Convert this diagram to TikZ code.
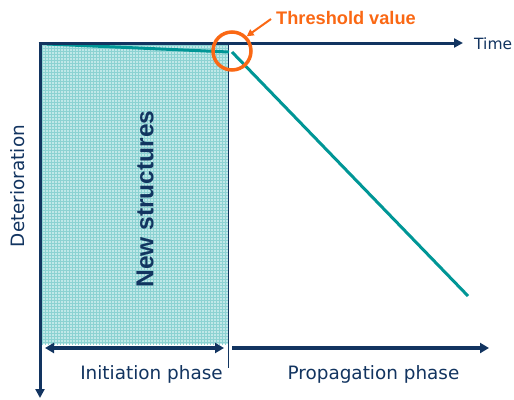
\documentclass[tikz,border=0pt]{standalone}
\usepackage{fontspec}
\setmainfont{DejaVu Sans}
\newfontfamily\arialfont{Liberation Sans}
\usetikzlibrary{arrows.meta}
\definecolor{navy}{RGB}{18,52,96}
\definecolor{tealline}{RGB}{0,150,150}
\definecolor{orng}{RGB}{250,104,20}
\definecolor{shadeA}{RGB}{192,232,232}
\definecolor{shadeB}{RGB}{140,210,210}
\begin{document}
\begin{tikzpicture}[x=1pt,y=-1pt,
  axis/.style={navy,line width=3pt,-{Triangle[length=9pt,width=9pt]}},
  phase/.style={navy,line width=3.5pt},
  lbl/.style={navy,font=\fontsize{18.4}{20}\selectfont,inner sep=0pt},
  curve/.style={tealline,line width=3pt},
  thr/.style={draw=orng,line width=3.5pt,circle,minimum size=38pt,inner sep=0pt}]
\useasboundingbox (0,0) rectangle (514,399);
% shaded region
\fill[shadeA] (42,45) rectangle (228,344);
\begin{scope}
\clip (42,45) rectangle (228,344);
\draw[shadeB,line width=0.7pt,step=3pt] (40,40) grid (230,346);
\end{scope}
% coordinates
\coordinate (O) at (40,43);
\coordinate (timeend) at (463,43);
\coordinate (detend) at (40,398);
\coordinate (divtop) at (228.5,43);
\coordinate (divbot) at (228.5,368);
\coordinate (ia) at (45,348);
\coordinate (ib) at (224,348);
\coordinate (pa) at (232,348);
\coordinate (pb) at (489,348);
\coordinate (c1) at (47,44);
\coordinate (c2) at (229,52);
\coordinate (c3) at (232,52);
\coordinate (c4) at (468,296);
% divider
\draw[navy,line width=1.5pt] (divtop) -- (divbot);
% curve
\draw[curve] (c1) -- (c2);
\draw[curve] (c3) -- (c4);
% axes
\draw[axis] (38.5,43) -- (timeend);
\draw[axis] (O) -- (detend);
% phase arrows
\draw[phase,{Triangle[length=9pt,width=10pt]}-{Triangle[length=9pt,width=10pt]}] (ia) -- (ib);
\draw[phase,-{Triangle[length=9pt,width=10pt]}] (pa) -- (pb);
% threshold
\node[thr] (circ) at (232,51) {};
\node[orng,font=\arialfont\bfseries\fontsize{18.2}{20}\selectfont,inner sep=0pt,anchor=west] (tv) at (276,18) {Threshold value};
\coordinate (tvs) at (271,19);
\draw[orng,line width=2pt,-{Triangle[length=7pt,width=7pt]}] (tvs) -- (circ.north east);
% labels
\node[lbl,font=\fontsize{15.5}{18}\selectfont,anchor=west] (time) at (474,44) {Time};
\node[lbl,rotate=90] (det) at (18,186) {Deterioration};
\node[lbl] (init) at (151.5,374) {Initiation phase};
\node[lbl] (prop) at (373.5,374) {Propagation phase};
\node[navy,font=\arialfont\bfseries\fontsize{24.5}{26}\selectfont,rotate=90,inner sep=0pt] (ns) at (145,199) {New structures};
\end{tikzpicture}
\end{document}
